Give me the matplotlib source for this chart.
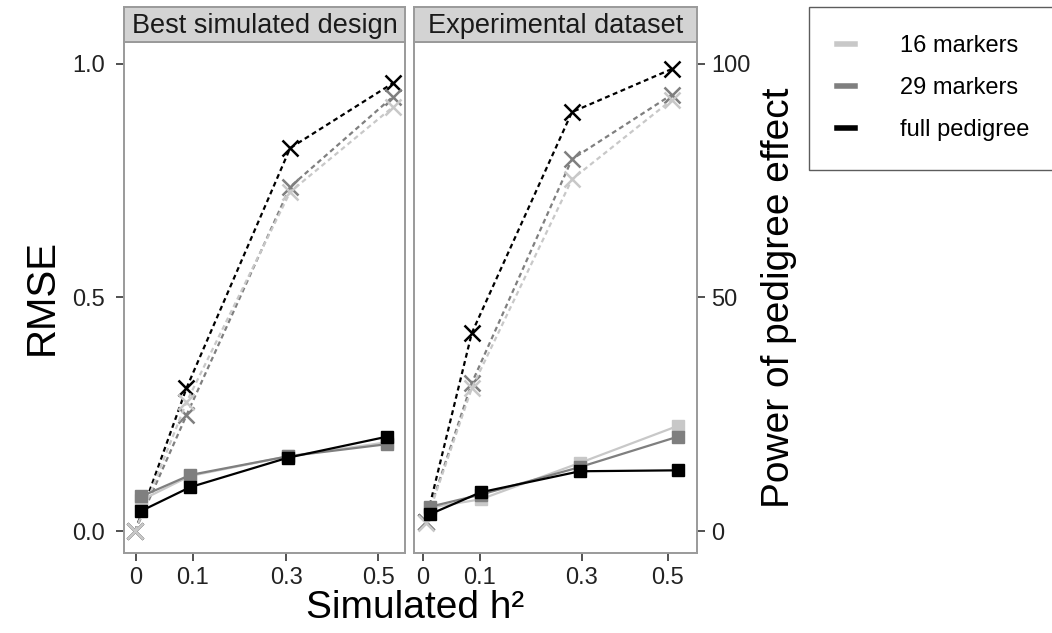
import matplotlib
matplotlib.use('Agg')
import matplotlib.pyplot as plt
from matplotlib.lines import Line2D

plt.rcParams['font.family'] = ['Liberation Sans', 'DejaVu Sans']

# datos
series = ['16 markers', '29 markers', 'full pedigree']
colores = ['#c8c8c8', '#7f7f7f', '#000000']
paneles = ['Best simulated design', 'Experimental dataset']

# posicion x (h2 simulado) de los puntos en cada panel
x_rmse = {
    'Best simulated design': [-0.012, 0.094, 0.305, 0.519],
    'Experimental dataset': [-0.006, 0.102, 0.313, 0.521],
}
x_power = {
    'Best simulated design': [-0.025, 0.086, 0.310, 0.532],
    'Experimental dataset': [-0.015, 0.083, 0.296, 0.508],
}

rmse = {
    'Best simulated design': [
        [0.066, 0.118, 0.160, 0.190],
        [0.074, 0.120, 0.160, 0.186],
        [0.043, 0.094, 0.157, 0.202],
    ],
    'Experimental dataset': [
        [0.050, 0.068, 0.146, 0.225],
        [0.052, 0.078, 0.137, 0.202],
        [0.036, 0.083, 0.128, 0.130],
    ],
}
power = {
    'Best simulated design': [
        [0.0, 27.6, 72.6, 90.8],
        [0.0, 24.8, 73.7, 93.0],
        [0.0, 30.6, 82.0, 95.9],
    ],
    'Experimental dataset': [
        [1.8, 30.6, 75.3, 92.3],
        [2.0, 31.7, 79.6, 93.4],
        [2.0, 42.4, 89.7, 98.9],
    ],
}

xticks_pos = {
    'Best simulated design': [-0.023, 0.1, 0.302, 0.5],
    'Experimental dataset': [-0.021, 0.1, 0.317, 0.5],
}
xticks_lab = ['0', '0.1', '0.3', '0.5']
xlims = {
    'Best simulated design': (-0.049, 0.558),
    'Experimental dataset': (-0.040, 0.562),
}

W, H = 1052, 633
fig = plt.figure(figsize=(W / 100, H / 100), dpi=100)

borde = '#9a9a9a'
cajas = {
    'Best simulated design': (124, 42, 405, 553),
    'Experimental dataset': (414, 42, 697, 553),
}
orden_power = [2, 1, 0]  # negro debajo, gris claro encima

for i, p in enumerate(paneles):
    x0, y0, x1, y1 = cajas[p]
    ax = fig.add_axes([x0 / W, 1 - y1 / H, (x1 - x0) / W, (y1 - y0) / H])
    for n, k in enumerate(orden_power):
        ax.plot(x_power[p], [v / 100 for v in power[p][k]], color=colores[k],
                lw=1.6, ls=(0, (2.2, 1.6)), marker='x', ms=12, mew=1.8,
                zorder=2 + n)
    for k in range(3):
        ax.plot(x_rmse[p], rmse[p][k], color=colores[k], lw=1.6,
                marker='s', ms=8.5, zorder=6 + k)
    ax.set_xlim(*xlims[p])
    ax.set_ylim(-0.047, 1.047)
    ax.set_xticks(xticks_pos[p])
    ax.set_xticklabels(xticks_lab)
    ax.tick_params(labelsize=17, length=6, width=1.2, color='#333333',
                   labelcolor='#222222', pad=4)
    if i == 0:
        ax.set_yticks([0, 0.5, 1.0])
        ax.set_yticklabels(['0.0', '0.5', '1.0'])
        ax.tick_params(axis='y', pad=8)
        ax.set_ylabel('RMSE', fontsize=29, labelpad=8)
    else:
        ax.yaxis.tick_right()
        ax.set_yticks([0, 0.5, 1.0])
        ax.set_yticklabels(['0', '50', '100'])
        ax.yaxis.set_label_position('right')
        ax.set_ylabel('Power of pedigree effect', fontsize=28, labelpad=8)
    for s in ax.spines.values():
        s.set_color(borde)
        s.set_linewidth(1.4)

    # tira del titulo de panel
    sax = fig.add_axes([x0 / W, 1 - y0 / H, (x1 - x0) / W, 35 / H])
    sax.set_xticks([])
    sax.set_yticks([])
    sax.set_facecolor('#d3d3d3')
    for s in sax.spines.values():
        s.set_color(borde)
        s.set_linewidth(1.4)
    sax.text(0.5, 0.47, p, ha='center', va='center', fontsize=19.5,
             color='#1a1a1a', transform=sax.transAxes)

fig.text(415 / W, 1 - 608 / H, 'Simulated h²', ha='center', va='center',
         fontsize=28)

# leyenda
handles = [Line2D([0], [0], color=c, lw=4) for c in colores]
leg = fig.legend(handles, series, loc='upper left',
                 bbox_to_anchor=(809 / W, 1 - 7 / H), fontsize=17,
                 handlelength=0.75, handletextpad=1.9, labelspacing=0.85,
                 borderpad=1.2, borderaxespad=0, frameon=True, fancybox=False)
leg.get_frame().set_edgecolor('#333333')
leg.get_frame().set_linewidth(1.0)

fig.savefig('out.png', dpi=100)
